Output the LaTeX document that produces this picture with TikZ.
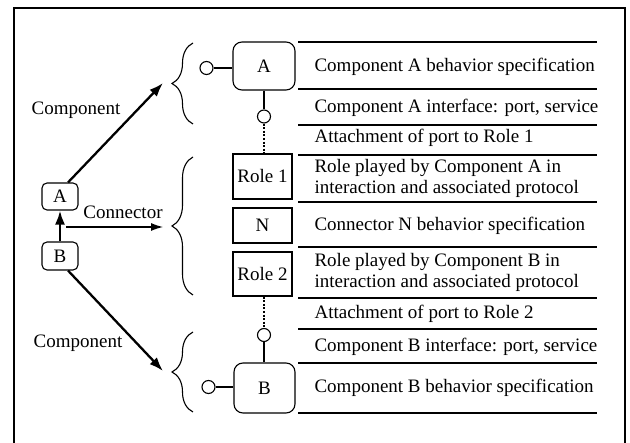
\documentclass[tikz,border=0pt]{standalone}
\usepackage{fontspec}
\setmainfont{Liberation Serif}
\usetikzlibrary{arrows.meta,decorations.pathreplacing}
\begin{document}
\begin{tikzpicture}[x=1pt,y=-1pt,
  font=\fontsize{19}{21}\selectfont,
  line width=1.1pt,
  cbox/.style={draw,rounded corners=9pt,inner sep=0pt},
  sbox/.style={draw,rounded corners=5pt,inner sep=0pt,minimum width=36pt},
  rbox/.style={draw,inner sep=0pt,minimum width=59pt},
  port/.style={draw,circle,inner sep=0pt,minimum size=13pt},
  sep/.style={line width=1.2pt},
  desc/.style={anchor=west,inner sep=0pt,align=left},
  big/.style={line width=2.3pt,-{Latex[length=14pt,width=10pt]}},
  thinarrow/.style={line width=1.1pt,-{Latex[length=12pt,width=8pt]}},
  attach/.style={line width=2.6pt,dash pattern=on 2pt off 1.6pt},
  brace/.style={decorate,decoration={brace,amplitude=21pt,aspect=0.5},line width=1.1pt}]
\useasboundingbox (0,0) rectangle (630,443);
\clip (0,0) rectangle (630,443);

% outer frame
\draw[line width=1.4pt] (14,8) rectangle (625,452);

% separator rules of the description column
\foreach \yy in {42,89,125,155,202,247,298,329,363,413}
  \draw[sep] (298,\yy) -- (597,\yy);

% descriptions
\node[desc] (dA) at (314,67) {Component A behavior specification};
\node[desc] (iA) at (314,108) {Component A interface: port, service};
\node[desc] (at1) at (314,138) {Attachment of port to Role 1};
\node[desc] (r1) at (314,178.5) {Role played by Component A in\\interaction and associated protocol};
\node[desc] (dN) at (314,226) {Connector N behavior specification};
\node[desc] (r2) at (314,272.5) {Role played by Component B in\\interaction and associated protocol};
\node[desc] (at2) at (314,314) {Attachment of port to Role 2};
\node[desc] (iB) at (314,347) {Component B interface: port, service};
\node[desc] (dB) at (314,388) {Component B behavior specification};

% component A with its ports
\node[cbox,minimum width=62pt,minimum height=48pt] (A) at (264,66) {A};
\node[port] (pAl) at (206.5,68) {};
\node[port] (pAb) at (264,116.5) {};
\draw (pAl) -- (pAl -| A.west);
\draw (A.south) -- (pAb);

% connector N with its roles
\node[rbox,minimum height=45pt] (R1) at (262.5,176.5) {Role 1};
\node[rbox,minimum height=35pt] (N) at (262.5,225.5) {N};
\node[rbox,minimum height=44pt] (R2) at (262.5,274) {Role 2};

% component B with its ports
\node[cbox,minimum width=61pt,minimum height=50pt] (B) at (264.5,388) {B};
\node[port] (pBt) at (264,335) {};
\node[port] (pBl) at (208.5,387) {};
\draw (pBl) -- (pBl -| B.west);
\draw (pBt) -- (pBt |- B.north);

% attachments
\draw[attach] (pAb.south) -- (pAb.south |- R1.north);
\draw[attach] (pBt.north |- R2.south) -- (pBt.north);

% braces
\draw[brace] (193,124) -- (193,43) coordinate[pos=0.5] (bA);
\draw[brace] (193,295) -- (193,157) coordinate[pos=0.5] (bN);
\draw[brace] (193,412) -- (193,332) coordinate[pos=0.5] (bB);
\coordinate (toA) at (163,83);
\coordinate (toN) at (163,227);
\coordinate (toB) at (163,371);

% left-hand summary
\node[sbox,minimum height=27pt] (sA) at (60,196.5) {A};
\node[sbox,minimum height=28pt] (sB) at (60,256) {B};
\coordinate (cstart) at (66,227);
\draw[big] (sB.north) -- (sA.south);
\draw[thinarrow] (cstart) -- (toN);
\draw[big] ([xshift=8pt]sA.north) -- (toA);
\draw[big] ([xshift=8pt]sB.south) -- (toB);

\node (lc) at (123,212) {Connector};
\node (lA) at (76,110) {Component};
\node (lB) at (78,343) {Component};
\end{tikzpicture}
\end{document}
